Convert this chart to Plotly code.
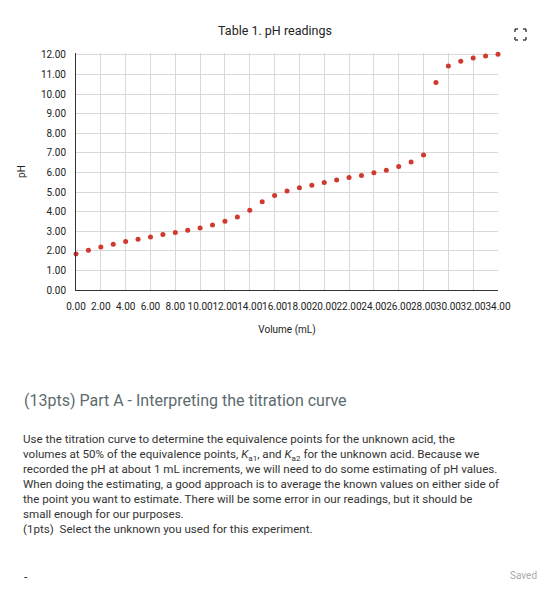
import plotly.graph_objects as go

volume = list(range(0, 35))
ph = [1.84, 2.03, 2.20, 2.34, 2.47, 2.59, 2.71, 2.83, 2.93, 3.05,
      3.17, 3.32, 3.51, 3.73, 4.07, 4.50, 4.82, 5.05, 5.22, 5.35,
      5.49, 5.61, 5.74, 5.85, 5.98, 6.12, 6.31, 6.53, 6.89, 10.60,
      11.44, 11.68, 11.85, 11.95, 12.03]
x_ticks = list(range(0, 35, 2))
y_ticks = list(range(0, 13))

chart_title = "Table 1. pH readings"
heading = "(13pts) Part A - Interpreting the titration curve"
paragraph = [
    "Use the titration curve to determine the equivalence points for the unknown acid, the",
    "volumes at 50% of the equivalence points, <i>K</i><sub>a1</sub>, and <i>K</i><sub>a2</sub> for the unknown acid. Because we",
    "recorded the pH at about 1 mL increments, we will need to do some estimating of pH values.",
    "When doing the estimating, a good approach is to average the known values on either side of",
    "the point you want to estimate. There will be some error in our readings, but it should be",
    "small enough for our purposes.",
    "(1pts)  Select the unknown you used for this experiment.",
]

fig = go.Figure()
fig.add_trace(go.Scatter(x=volume, y=ph, mode="markers", cliponaxis=False,
                         marker=dict(color="#d0392e", size=5), showlegend=False))

# page has an 8px body margin, so the figure is 8px smaller each way
fig.update_layout(
    width=552, height=608,
    margin=dict(l=68, r=62, t=45, b=326),
    plot_bgcolor="white", paper_bgcolor="white",
    font=dict(family="Roboto, Arial", color="#222"),
    title=dict(text=chart_title, x=(275 - 8) / 552, xanchor="center",
               y=1 - (31 - 8) / 608, yanchor="middle",
               font=dict(size=12.5, color="#222")),
)
fig.update_xaxes(range=[0, 34], tickvals=x_ticks, ticktext=[f"{v:.2f}" for v in x_ticks],
                 tickangle=0, automargin=False, ticklabelstandoff=7,
                 tickfont=dict(size=10), showgrid=True, gridcolor="#d9d9d9",
                 showline=True, linecolor="#333", zeroline=False, ticks="",
                 title=dict(text="Volume (mL)", font=dict(size=10), standoff=14))
fig.update_yaxes(range=[0, 12.1], tickvals=y_ticks, ticktext=[f"{v:.2f}" for v in y_ticks],
                 automargin=False, ticklabelstandoff=7,
                 tickfont=dict(size=10), showgrid=True, gridcolor="#d9d9d9",
                 showline=True, linecolor="#333", zeroline=False, ticks="",
                 title=dict(text="pH", font=dict(size=10), standoff=13))


def px(x):
    return (x - 76) / 422


def py(y):
    return (290 - y) / 237


# expand icon corners
ix0, ix1, iy0, iy1 = 515, 526, 29, 40
for (xa, ya, xb, yb) in [
    (ix0, iy0, ix0 + 3, iy0), (ix0, iy0, ix0, iy0 + 3),
    (ix1 - 3, iy0, ix1, iy0), (ix1, iy0, ix1, iy0 + 3),
    (ix0, iy1, ix0 + 3, iy1), (ix0, iy1 - 3, ix0, iy1),
    (ix1 - 3, iy1, ix1, iy1), (ix1, iy1 - 3, ix1, iy1),
]:
    fig.add_shape(type="line", xref="paper", yref="paper",
                  x0=px(xa), x1=px(xb), y0=py(ya), y1=py(yb),
                  line=dict(color="#444", width=1.5))

fig.add_annotation(text=heading, xref="paper", yref="paper",
                   x=px(22), y=py(400), xanchor="left", yanchor="middle",
                   showarrow=False, font=dict(size=16, color="#5d6b6e"))
fig.add_annotation(text="<br>".join(paragraph), xref="paper", yref="paper",
                   x=px(21), y=py(430), xanchor="left", yanchor="top",
                   align="left", showarrow=False, font=dict(size=11.6, color="#333"))
fig.add_annotation(text="-", xref="paper", yref="paper",
                   x=px(22), y=py(577), xanchor="left", yanchor="middle",
                   showarrow=False, font=dict(size=12, color="#333"))
fig.add_annotation(text="Saved", xref="paper", yref="paper",
                   x=px(539), y=py(575), xanchor="right", yanchor="middle",
                   showarrow=False, font=dict(size=10, color="#aaa"))

fig.write_html("out.html")
